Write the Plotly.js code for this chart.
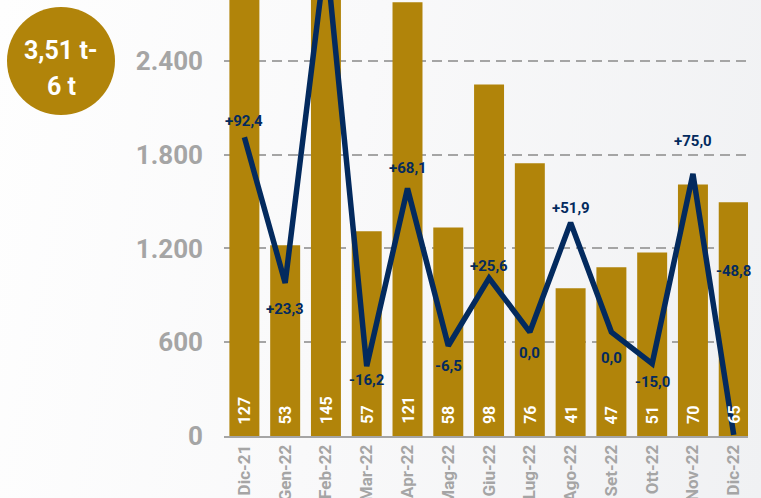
<!DOCTYPE html>
<html>
<head>
<meta charset="utf-8">
<script src="https://cdn.plot.ly/plotly-3.0.1.min.js"></script>
<style>
  html, body { margin: 0; padding: 0; }
  body { width: 761px; height: 498px; overflow: hidden;
         background: linear-gradient(100deg, #fefefe 0%, #f9f9fa 45%, #f0f1f3 100%); }
  #chart { width: 761px; height: 498px; }
</style>
</head>
<body>
<div id="chart"></div>
<script>
// ---- data ----
const months = ['Dic-21','Gen-22','Feb-22','Mar-22','Apr-22','Mag-22','Giu-22','Lug-22','Ago-22','Set-22','Ott-22','Nov-22','Dic-22'];
const volumes = [2900, 1220, 3100, 1310, 2775, 1335, 2250, 1745, 945, 1080, 1175, 1610, 1495];
const counts = ['127','53','145','57','121','58','98','76','41','47','51','70','65'];
const changes = [92.4, 23.3, 180, -16.2, 68.1, -6.5, 25.6, 0.0, 51.9, 0.0, -15.0, 75.0, -48.8];
const changeLabels = ['+92,4','+23,3','','-16,2','+68,1','-6,5','+25,6','0,0','+51,9','0,0','-15,0','+75,0','-48,8'];
const badgeLines = ['3,51 t-', '6 t'];

// ---- styles ----
const GOLD = '#B1840A';
const NAVY = '#032A5E';
const GREY = '#A5A5A5';
const FONT = 'Roboto, Liberation Sans, sans-serif';
const labelShift = [16, -26, 0, -14, 20, -20, 12, -21, 15, -26, -18, 33, 164];

const bars = {
  type: 'bar', x: months, y: volumes,
  marker: { color: GOLD, line: { width: 0 } },
  hoverinfo: 'skip', showlegend: false
};
const line = {
  type: 'scatter', mode: 'lines', x: months, y: changes, yaxis: 'y2',
  line: { color: NAVY, width: 5.5 },
  hoverinfo: 'skip', showlegend: false
};

const annotations = [];
months.forEach((m, i) => {
  annotations.push({
    x: m, y: 0, xref: 'x', yref: 'y', text: counts[i], showarrow: false,
    textangle: -90, yanchor: 'bottom', xanchor: 'center', yshift: 10,
    font: { family: FONT, size: 16, color: '#ffffff', weight: 'bold' }
  });
  if (changeLabels[i]) {
    annotations.push({
      x: m, y: changes[i], xref: 'x', yref: 'y2', text: changeLabels[i], showarrow: false,
      yanchor: 'middle', xanchor: 'center', yshift: labelShift[i],
      font: { family: FONT, size: 15, color: NAVY, weight: 'bold' }
    });
  }
});
annotations.push({
  xref: 'paper', yref: 'paper', x: 0, y: 1, xshift: -163, yshift: -50,
  xanchor: 'center', yanchor: 'middle', showarrow: false, text: badgeLines[0],
  font: { family: FONT, size: 25, color: '#ffffff', weight: 'bold' }
});
annotations.push({
  xref: 'paper', yref: 'paper', x: 0, y: 1, xshift: -163, yshift: -86,
  xanchor: 'center', yanchor: 'middle', showarrow: false, text: badgeLines[1],
  font: { family: FONT, size: 25, color: '#ffffff', weight: 'bold' }
});

const layout = {
  width: 761, height: 498,
  margin: { l: 224, r: 13, t: 0, b: 62 },
  paper_bgcolor: 'rgba(0,0,0,0)', plot_bgcolor: 'rgba(0,0,0,0)',
  separators: ',.',
  bargap: 0.265,
  showlegend: false,
  xaxis: {
    type: 'category', range: [-0.5, 12.35], tickangle: -90,
    showgrid: false, zeroline: false, showline: true, linecolor: GREY, linewidth: 2,
    ticks: '', tickfont: { family: FONT, size: 17, color: GREY, weight: 'bold' }
  },
  yaxis: {
    range: [0, 2790], tickvals: [0, 600, 1200, 1800, 2400], tickformat: ',d',
    showgrid: true, gridcolor: GREY, gridwidth: 2, griddash: '10px,6px',
    zeroline: false, showline: false, ticks: '', ticklabelstandoff: 20,
    tickfont: { family: FONT, size: 26, color: GREY, weight: 'bold' }
  },
  yaxis2: {
    overlaying: 'y', side: 'right', range: [-49.3, 157.5], visible: false,
    showgrid: false, zeroline: false
  },
  shapes: [{
    type: 'circle', xref: 'paper', yref: 'paper',
    xsizemode: 'pixel', ysizemode: 'pixel', xanchor: 0, yanchor: 1,
    x0: -217, x1: -109, y0: -115, y1: -7,
    fillcolor: GOLD, line: { width: 0 }, layer: 'above'
  }],
  annotations: annotations
};

Plotly.newPlot('chart', [bars, line], layout, { staticPlot: true, displayModeBar: false });
</script>
</body>
</html>
